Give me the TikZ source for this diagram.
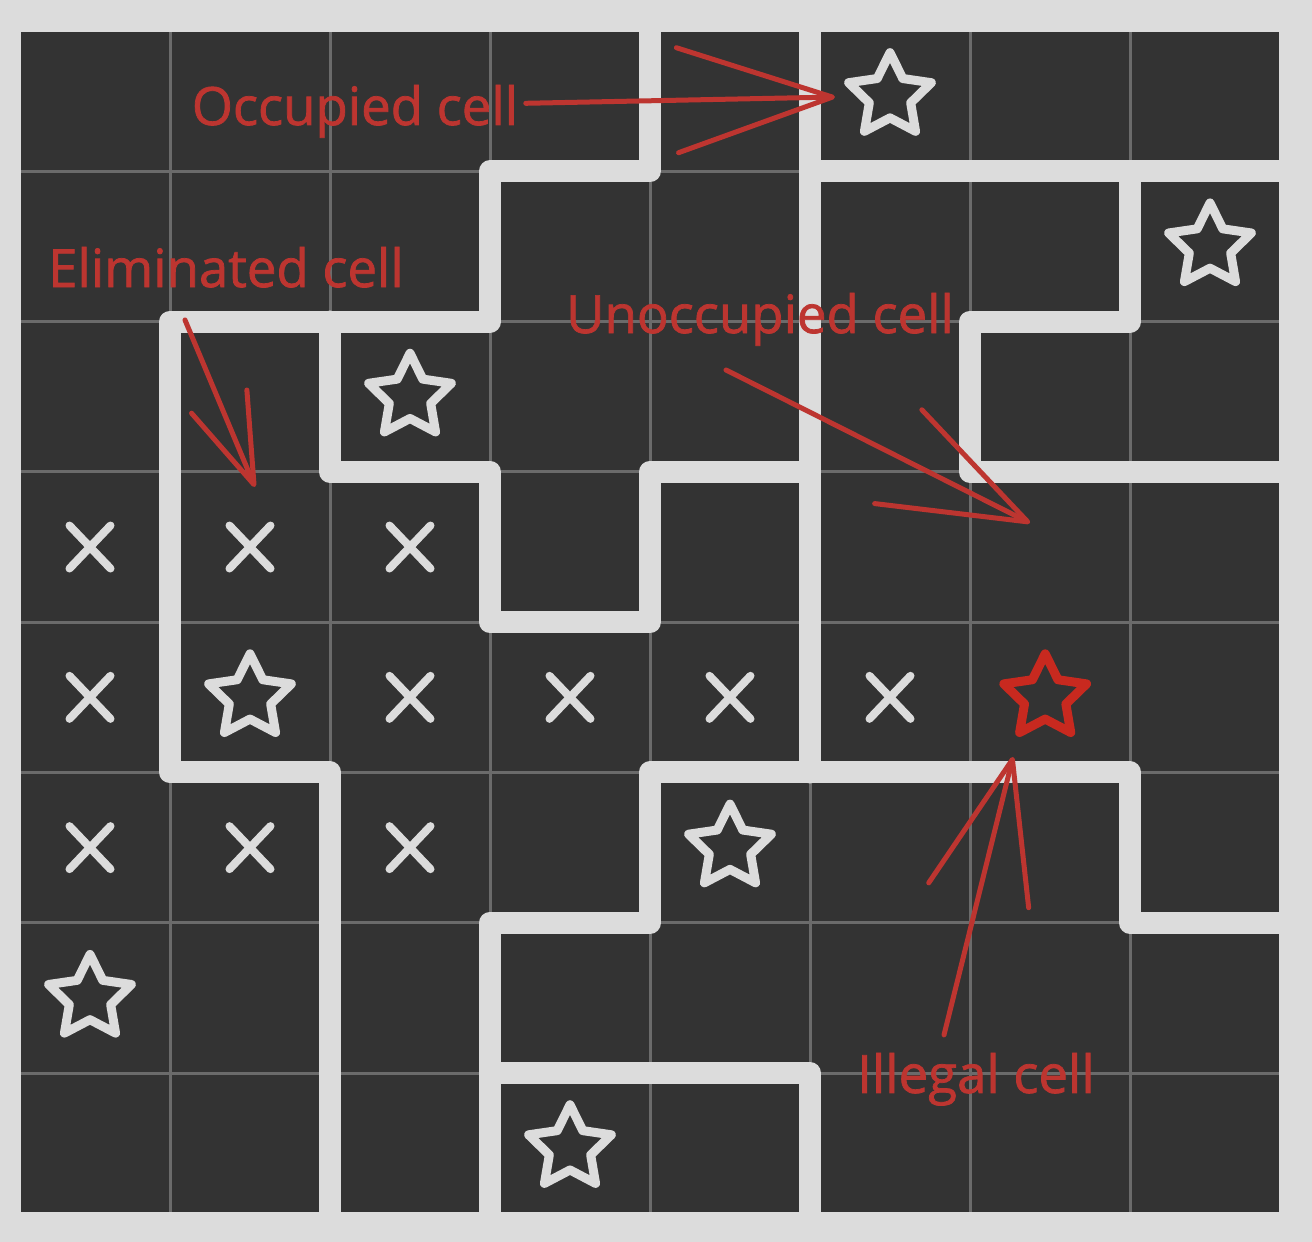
\documentclass[tikz,border=0pt]{standalone}
\usepackage{fontspec}
\setmainfont{Open Sans}
\newfontfamily\notefont{Open Sans}[FakeBold=1.4]
\usetikzlibrary{shapes.geometric,shapes.misc,arrows.meta}

\definecolor{bggray}{HTML}{DCDCDC}
\definecolor{cellgray}{HTML}{333333}
\definecolor{gridgray}{HTML}{6B6B6B}
\definecolor{penred}{HTML}{BD3530}
\definecolor{starred}{HTML}{C8291F}

\tikzset{
  wall/.style={bggray, line width=0.22cm, line cap=round, line join=round},
  thin grid/.style={gridgray, line width=0.03cm},
  starmark/.style={star, star points=5, star point ratio=2, minimum size=0.87cm, inner sep=0pt, draw=bggray, line width=0.09cm, line join=round},
  crossmark/.style={cross out, draw=bggray, line width=0.08cm, line cap=round, minimum width=0.33cm, minimum height=0.35cm, inner sep=0pt},
  note/.style={text=penred, font=\notefont\fontsize{15}{18}\selectfont, inner sep=2pt},
  pen arrow/.style={penred, line width=0.05cm, line cap=round, line join=round},
}

\begin{document}
\begin{tikzpicture}[x=1.6cm, y=-1.503cm]
\useasboundingbox (-0.0625,-0.1397) rectangle (8.1375,8.1238);
\fill[bggray] (-0.0625,-0.1397) rectangle (8.1375,8.1238);

% board
\fill[cellgray] (0,0) rectangle (8,8);
\foreach \i in {1,...,7} {
  \draw[thin grid] (\i,0) -- (\i,8);
  \draw[thin grid] (0,\i) -- (8,\i);
}

% region walls
\draw[wall] (0,0) rectangle (8,8);
\draw[wall] (4,0) -- (4,1) -- (3,1) -- (3,2) -- (1,2) -- (1,5) -- (2,5) -- (2,8);
\draw[wall] (2,2) -- (2,3) -- (3,3) -- (3,4) -- (4,4) -- (4,3) -- (5,3);
\draw[wall] (5,0) -- (5,5);
\draw[wall] (5,1) -- (8,1);
\draw[wall] (7,1) -- (7,2) -- (6,2) -- (6,3) -- (8,3);
\draw[wall] (3,8) -- (3,6) -- (4,6) -- (4,5) -- (7,5) -- (7,6) -- (8,6);
\draw[wall] (3,7) -- (5,7) -- (5,8);

% stars
\foreach \c/\r in {5/0,7/1,2/2,1/4,4/5,0/6,3/7}
  \node[starmark] (s\c\r) at (\c+0.5,\r+0.5) {};
\node[starmark, draw=starred] (s64) at (6.47,4.5) {};

% eliminated cells
\foreach \c/\r in {0/3,1/3,2/3,0/4,2/4,3/4,4/4,5/4,0/5,1/5,2/5}
  \node[crossmark] (x\c\r) at (\c+0.5,\r+0.5) {};

% notes
\node[note, anchor=base] (occ) at (2.156,0.692) {Occupied cell};
\node[note, anchor=base] (elim) at (1.35,1.770) {Eliminated cell};
\node[note, anchor=base] (unocc) at (4.6875,2.076) {Unoccupied cell};
\node[note, anchor=base] (illegal) at (6.0375,7.132) {Illegal cell};

\coordinate (occ tip) at (5.156,0.506);
\coordinate (elim tip) at (1.531,3.100);
\coordinate (unocc tip) at (6.375,3.340);
\coordinate (illegal tip) at (6.269,4.897);

\draw[pen arrow, -{Straight Barb[length=1.55cm,width=1.05cm,round]}] ([yshift=0.08cm]occ.east) -- (occ tip);
\draw[pen arrow, -{Straight Barb[length=0.9cm,width=0.6cm,round]}] ([shift={(-0.41cm,-0.33cm)}]elim.base) -- (elim tip);
\draw[pen arrow, -{Straight Barb[length=1.45cm,width=1.05cm,round]}] ([shift={(-0.34cm,-0.37cm)}]unocc.base) -- (unocc tip);
\draw[pen arrow, -{Straight Barb[length=1.4cm,width=1.03cm,round]}] ([shift={(-0.32cm,0.58cm)}]illegal.base) -- (illegal tip);
\end{tikzpicture}
\end{document}
